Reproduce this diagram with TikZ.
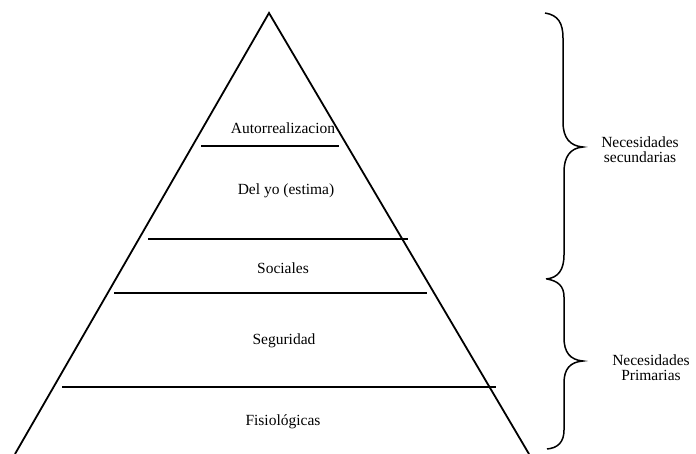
\documentclass[tikz,border=0pt]{standalone}
\usepackage{fontspec}
\setmainfont{Liberation Serif}
\begin{document}
\begin{tikzpicture}[x=1pt,y=-1pt,
  edge/.style={line width=1.8pt,line join=miter},
  tier/.style={line width=1.4pt},
  brace/.style={line width=1.5pt},
  lbl/.style={inner sep=0pt,font=\fontsize{15.5}{15}\selectfont},
  side/.style={inner sep=0pt,align=center,font=\fontsize{15.5}{15}\selectfont}]
\useasboundingbox (0,0) rectangle (696,454);
% pyramid
\coordinate (bl) at (15,454);
\coordinate (apex) at (269,13);
\coordinate (br) at (529,454);
\draw[edge] (bl) -- (apex) -- (br);
% tier lines
\coordinate (l1a) at (201,146); \coordinate (l1b) at (339,146);
\coordinate (l2a) at (148,239); \coordinate (l2b) at (408,239);
\coordinate (l3a) at (114,293); \coordinate (l3b) at (427,293);
\coordinate (l4a) at (62,387);  \coordinate (l4b) at (496,387);
\draw[tier] (l1a) -- (l1b);
\draw[tier] (l2a) -- (l2b);
\draw[tier] (l3a) -- (l3b);
\draw[tier] (l4a) -- (l4b);
% tier labels
\node[lbl] (t1) at (283,128) {Autorrealizacion};
\node[lbl] (t2) at (286,191) {Del yo (estima)};
\node[lbl] (t3) at (283,268) {Sociales};
\node[lbl] (t4) at (284,341) {Seguridad};
\node[lbl] (t5) at (283,422) {Fisiológicas};
% braces
\coordinate (b1top) at (545,13);
\coordinate (b1tip) at (583,147);
\coordinate (b1bot) at (546,279);
\draw[brace] (b1top) .. controls (558,15) and (563,23) .. (563,38)
  -- (563,122) .. controls (563,138) and (570,146) .. (b1tip)
  .. controls (570,148) and (564,157) .. (564,172)
  -- (564,255) .. controls (564,270) and (558,278) .. (b1bot);
\coordinate (b2top) at (547,279);
\coordinate (b2tip) at (583,361);
\coordinate (b2bot) at (547,449);
\draw[brace] (b2top) .. controls (558,281) and (564,286) .. (564,297)
  -- (564,338) .. controls (564,352) and (570,360) .. (b2tip)
  .. controls (570,362) and (564,369) .. (564,383)
  -- (564,430) .. controls (564,442) and (558,448) .. (b2bot);
% side labels
\node[side] (s1) at (640,150) {Necesidades\\secundarias};
\node[side] (s2) at (651,368) {Necesidades\\Primarias};
\end{tikzpicture}
\end{document}
